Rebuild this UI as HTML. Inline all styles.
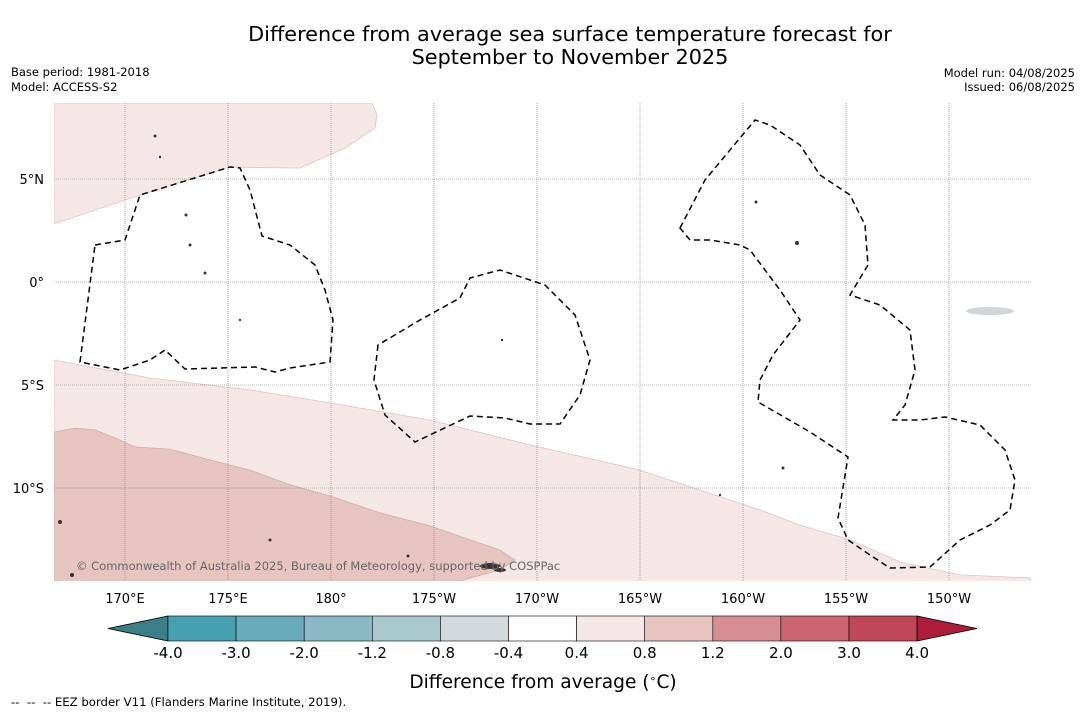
<!DOCTYPE html>
<html><head><meta charset="utf-8">
<style>
html,body{margin:0;padding:0;background:#fff;}
body{width:1085px;height:713px;overflow:hidden;font-family:"Liberation Sans","DejaVu Sans",sans-serif;}
svg text{font-family:"DejaVu Sans","Liberation Sans",sans-serif;}
</style></head>
<body>
<svg id="chart" width="1085" height="713" viewBox="0 0 1085 713">
  <text x="570" y="41" font-size="20.8" text-anchor="middle">Difference from average sea surface temperature forecast for</text>
  <text x="570" y="64" font-size="20.8" text-anchor="middle">September to November 2025</text>
  <text x="11" y="76" font-size="11.5">Base period: 1981-2018</text>
  <text x="11" y="91" font-size="11.5">Model: ACCESS-S2</text>
  <text x="1075" y="77" font-size="11.5" text-anchor="end">Model run: 04/08/2025</text>
  <text x="1075" y="91" font-size="11.5" text-anchor="end">Issued: 06/08/2025</text>
  <defs><clipPath id="mapclip"><rect x="54" y="103" width="977" height="478"/></clipPath></defs>
  <g id="map" clip-path="url(#mapclip)">
    <rect x="54" y="103" width="977" height="478" fill="#fff"/>
    <g id="fills"></g>
    <g id="grid"></g>
    <g fill="none" stroke="#000" stroke-width="1.5" stroke-dasharray="6,4">
      <path d="M95,245 L125,240 L140,195 L230,167 L240,168 L250,190 L262,236 L290,245 L315,265 L325,290 L333,320 L330,362 L290,368 L275,372 L255,367 L185,369 L165,350 L150,360 L120,370 L80,362 Z"/>
      <path d="M378,345 L374,380 L385,415 L415,442 L470,416 L505,418 L530,424 L560,424 L580,395 L590,360 L575,315 L545,285 L500,270 L470,278 L460,298 L420,320 Z"/>
      <path d="M680,228 L705,180 L755,120 L770,125 L800,145 L820,175 L850,195 L865,225 L868,265 L850,295 L880,305 L910,330 L915,370 L905,405 L893,420 L920,420 L945,417 L980,425 L1005,450 L1015,480 L1010,510 L990,525 L960,540 L930,567 L890,568 L870,555 L848,540 L838,518 L848,457 L810,432 L758,402 L760,380 L773,355 L800,320 L780,290 L750,250 L740,245 L710,240 L690,240 Z"/>
    </g>
    <g fill="#333">
      <ellipse cx="990" cy="311" rx="24" ry="4" fill="#cfd6da"/>
      <ellipse cx="490" cy="566" rx="10" ry="3"/><ellipse cx="500" cy="570" rx="6" ry="2"/>
      <circle cx="60" cy="522" r="2"/><circle cx="72" cy="575" r="2"/><circle cx="270" cy="540" r="1.5"/>
      <circle cx="186" cy="215" r="1.5"/><circle cx="190" cy="245" r="1.5"/><circle cx="205" cy="273" r="1.5"/>
      <circle cx="240" cy="320" r="1.2"/><circle cx="797" cy="243" r="2"/><circle cx="756" cy="202" r="1.5"/>
      <circle cx="155" cy="136" r="1.5"/><circle cx="160" cy="157" r="1.2"/><circle cx="502" cy="340" r="1.2"/>
      <circle cx="783" cy="468" r="1.5"/><circle cx="720" cy="495" r="1.2"/><circle cx="408" cy="556" r="1.5"/>
    </g>
    <text x="76" y="570" font-size="11.5" fill="#666">© Commonwealth of Australia 2025, Bureau of Meteorology, supported by COSPPac</text>
  </g>
  <g id="axes"></g>
  <g id="colorbar"></g>
  <text x="543" y="688" font-size="18.6" text-anchor="middle">Difference from average (<tspan baseline-shift="super" font-size="11">∘</tspan>C)</text>
  <text x="11" y="706" font-size="11.7" xml:space="preserve" style="white-space:pre">--  --  -- EEZ border V11 (Flanders Marine Institute, 2019).</text>
</svg>
<script>
// Gridline / tick data
const lonTicks = [170, 175, 180, 185, 190, 195, 200, 205, 210];
const lonLabels = ["170°E","175°E","180°","175°W","170°W","165°W","160°W","155°W","150°W"];
const latTicks = [5, 0, -5, -10];
const latLabels = ["5°N","0°","5°S","10°S"];
// Contour regions (lon 0-360, lat)
const northLightLon = [166.55,170.73,175.10,178.50,180.68,182.14,182.23,181.99,166.55];
const northLightLat = [2.82,4.22,5.58,5.53,6.50,7.48,8.11,8.69,8.69];
const southLightLon = [166.55,171.21,176.07,179.95,184.81,189.66,195.0,197.91,200.83,202.77,205.19,207.62,210.53,213.98,213.98,166.55];
const southLightLat = [-3.79,-4.66,-5.24,-5.87,-6.70,-7.91,-9.13,-10.10,-11.07,-11.80,-12.52,-13.59,-14.22,-14.37,-14.6,-14.6];
const southDarkLon = [166.55,167.57,168.54,169.51,170.49,172.18,174.13,176.07,178.01,179.95,182.38,184.81,186.75,188.20,188.93,188.20,186.75,186.02,166.55];
const southDarkLat = [-7.28,-7.09,-7.18,-7.57,-8.01,-8.11,-8.64,-9.13,-9.85,-10.39,-11.21,-11.84,-12.52,-13.01,-13.50,-13.98,-14.37,-14.6,-14.6];
// Colorbar data
const cbLevels = ["-4.0","-3.0","-2.0","-1.2","-0.8","-0.4","0.4","0.8","1.2","2.0","3.0","4.0"];
const cbColors = ["#47a0b0","#68abba","#8ab9c5","#a9c9cd","#d3dadb","#ffffff","#f4e7e6","#e6c5c1","#d68d94","#cb6670","#bf4756"];
const cbUnder = "#3b7f88", cbOver = "#ab1d3a";

const NS = "http://www.w3.org/2000/svg";
const X0 = 54, X1 = 1031, Y0 = 103, Y1 = 581;
const xOf = lon => 125 + (lon - 170) * 20.6;
const yOf = lat => 282 - lat * 20.6;
function mk(tag, attrs, parent){const e=document.createElementNS(NS,tag);for(const k in attrs)e.setAttribute(k,attrs[k]);parent.appendChild(e);return e;}
function poly(lons,lats){return lons.map((l,i)=>xOf(l).toFixed(1)+","+yOf(lats[i]).toFixed(1)).join(" ");}

const fills = document.getElementById("fills");
let p = mk("polygon",{points:poly(northLightLon,northLightLat),fill:"#f4e7e6",stroke:"#dcc5c3","stroke-width":"0.8"},fills);


p = mk("polygon",{points:poly(southLightLon,southLightLat),fill:"#f4e7e6",stroke:"#dcc5c3","stroke-width":"0.8"},fills);


p = mk("polygon",{points:poly(southDarkLon,southDarkLat),fill:"#e6c5c1",stroke:"#d4aaa6","stroke-width":"0.8"},fills);



const grid = document.getElementById("grid");
const axes = document.getElementById("axes");
lonTicks.forEach((lon,i)=>{
  const x = xOf(lon);
  const l = mk("line",{x1:x,x2:x,y1:Y0,y2:Y1,stroke:"#777","stroke-width":"0.6","stroke-dasharray":"1,1"},grid);
  
  
  const t = mk("text",{x:x,y:603,"font-size":"13","text-anchor":"middle"},axes);
  t.textContent = lonLabels[i];
  
  
});
latTicks.forEach((lat,i)=>{
  const y = yOf(lat);
  const l = mk("line",{x1:X0,x2:X1,y1:y,y2:y,stroke:"#777","stroke-width":"0.6","stroke-dasharray":"1,1"},grid);
  
  
  const t = mk("text",{x:44,y:y+5,"font-size":"13","text-anchor":"end"},axes);
  t.textContent = latLabels[i];
  
  
});

const cb = document.getElementById("colorbar");
const cbX0 = 168, cbW = 68.1, cbY = 616, cbH = 25;
let tri = mk("polygon",{points:`${cbX0},${cbY} ${cbX0},${cbY+cbH} 108,${cbY+cbH/2}`,fill:cbUnder,stroke:"#000","stroke-width":"0.8"},cb);


cbColors.forEach((c,i)=>{
  const r = mk("rect",{x:cbX0+i*cbW,y:cbY,width:cbW,height:cbH,fill:c,stroke:"#000","stroke-width":"0.6"},cb);
  
  
});
const cbEnd = cbX0 + cbColors.length*cbW;
tri = mk("polygon",{points:`${cbEnd},${cbY} ${cbEnd},${cbY+cbH} 977,${cbY+cbH/2}`,fill:cbOver,stroke:"#000","stroke-width":"0.8"},cb);


cbLevels.forEach((lv,i)=>{
  const t = mk("text",{x:cbX0+i*cbW,y:658,"font-size":"15","text-anchor":"middle"},cb);
  t.textContent = lv;
  
  
});
</script>
</body></html>
